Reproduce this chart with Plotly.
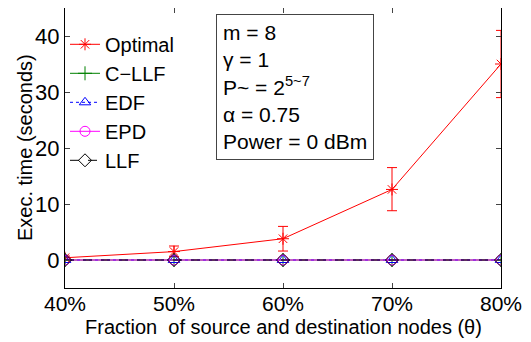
import plotly.graph_objects as go

x_vals = [40, 50, 60, 70, 80]
x_labels = ["40%", "50%", "60%", "70%", "80%"]
optimal = [0.4, 1.5, 3.8, 12.6, 35.0]
optimal_err_plus = [0.3, 1.0, 2.2, 3.9, 6.0]
optimal_err_minus = [0.3, 0.9, 2.2, 3.8, 6.0]
cllf = [0, 0, 0, 0, 0]
edf = [0, 0, 0, 0, 0]
epd = [0, 0, 0, 0, 0]
llf = [0, 0, 0, 0, 0]

font = "Liberation Sans, Arial, sans-serif"
fig = go.Figure()
fig.add_trace(go.Scatter(x=x_vals, y=optimal, name="Optimal", mode="lines+markers",
                         line=dict(color="red", width=1),
                         marker=dict(symbol="asterisk-open", size=10, color="red", line=dict(width=1, color="red")),
                         error_y=dict(type="data", array=optimal_err_plus, arrayminus=optimal_err_minus,
                                      color="red", thickness=1, width=5)))
fig.add_trace(go.Scatter(x=x_vals, y=cllf, name="C\u2212LLF", mode="lines+markers",
                         line=dict(color="green", width=1),
                         marker=dict(symbol="cross-thin-open", size=10, color="green", line=dict(width=1, color="green"))))
fig.add_trace(go.Scatter(x=x_vals, y=edf, name="EDF", mode="lines+markers",
                         line=dict(color="blue", width=1, dash="dot"),
                         marker=dict(symbol="triangle-up-open", size=10, color="blue", line=dict(width=1, color="blue"))))
fig.add_trace(go.Scatter(x=x_vals, y=epd, name="EPD", mode="lines+markers",
                         line=dict(color="magenta", width=1),
                         marker=dict(symbol="circle-open", size=10, color="magenta", line=dict(width=1, color="magenta"))))
fig.add_trace(go.Scatter(x=x_vals, y=llf, name="LLF", mode="lines+markers",
                         line=dict(color="black", width=1, dash="dash"),
                         marker=dict(symbol="diamond-open", size=10, color="black", line=dict(width=1, color="black"))))

fig.add_annotation(xref="paper", yref="paper", x=0.346, y=0.978, xanchor="left", yanchor="top",
                   text="m = 8<br>\u03b3 = 1<br>P~ = 2<sup>5~7</sup><br>\u03b1 = 0.75<br>Power = 0 dBm",
                   align="left", showarrow=False, bordercolor="#444", borderwidth=1, borderpad=6,
                   bgcolor="white", font=dict(family=font, size=21, color="black"))

# axis titles
fig.add_annotation(xref="paper", yref="paper", x=0.5, y=0, xanchor="center", yanchor="top", yshift=-26,
                   text="Fraction  of source and destination nodes (\u03b8)", showarrow=False,
                   font=dict(family=font, size=20, color="black"))
fig.add_annotation(xref="paper", yref="paper", x=0, y=0.5, xanchor="center", yanchor="middle", xshift=-40,
                   text="Exec. time (seconds)", textangle=-90, showarrow=False,
                   font=dict(family=font, size=20, color="black"))

fig.update_layout(
    width=523, height=334,
    margin=dict(l=57, r=30, t=0, b=54, autoexpand=False),
    plot_bgcolor="white", paper_bgcolor="white",
    font=dict(family=font, color="black"),
    showlegend=True,
    legend=dict(x=0.0, y=0.94, xanchor="left", yanchor="top", bgcolor="rgba(0,0,0,0)",
                font=dict(size=20, family=font), tracegroupgap=0, itemwidth=30),
    xaxis=dict(range=[40, 80], tickvals=x_vals, ticktext=x_labels, ticks="inside", ticklen=5,
               showline=True, linecolor="black", linewidth=1, mirror="ticks", showgrid=False,
               zeroline=False, tickfont=dict(size=21), automargin=False, ticklabelstandoff=-3),
    yaxis=dict(range=[-5, 45], tickvals=[0, 10, 20, 30, 40], ticks="inside", ticklen=5,
               showline=True, linecolor="black", linewidth=1, mirror="ticks", showgrid=False,
               zeroline=False, tickfont=dict(size=22), automargin=False),
)
fig.write_html("out.html")
